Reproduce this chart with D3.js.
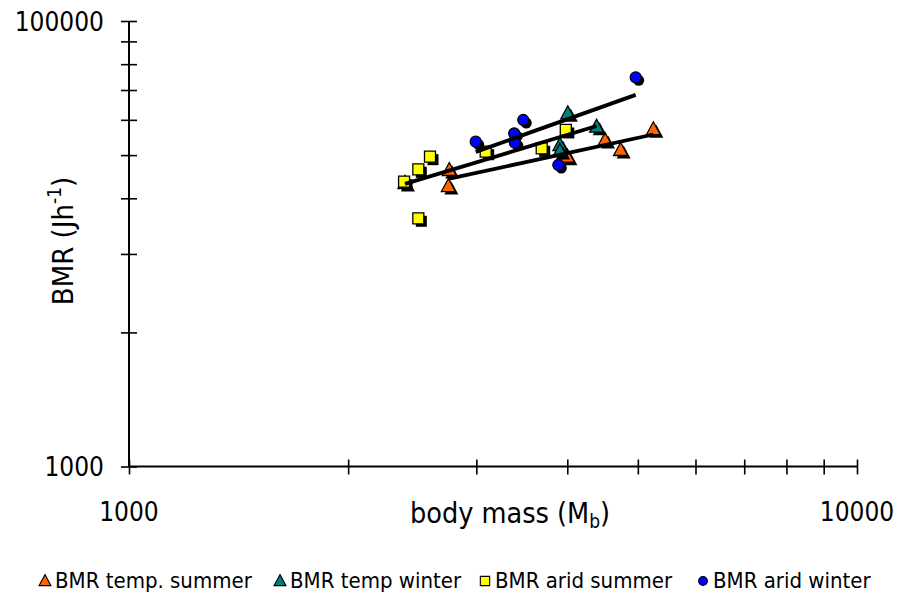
<!DOCTYPE html>
<html><head><meta charset="utf-8">
<script src="https://cdn.jsdelivr.net/npm/d3@7/dist/d3.min.js"></script>
<style>
body{margin:0;background:#fff}
svg{display:block}
text{font-family:"DejaVu Sans Condensed","DejaVu Sans",sans-serif;fill:#000;font-stretch:condensed}
</style>
</head><body>
<svg id="c" width="901" height="593"></svg>
<script>
// ---------- data ----------
const seriesNames = ["BMR temp. summer", "BMR temp winter", "BMR arid summer", "BMR arid winter"];
const seriesColors = ["#ff6600", "#008080", "#ffff00", "#0000ff"];
const seriesShapes = ["triangle", "triangle", "square", "circle"];
const seriesHasTrend = [true, true, false, true];

const tempSummerMass = [2754, 2746, 4001, 4507, 4735, 5251];
const tempSummerBMR  = [21430, 18160, 24600, 29220, 26360, 32660];
const tempWinterMass = [2394, 3908, 3908, 4006, 4389];
const tempWinterBMR  = [18740, 27760, 26090, 38510, 33530];
const aridSummerMass = [2591, 2497, 2387, 2497, 3090, 3689, 3981];
const aridSummerBMR  = [24600, 21590, 19000, 13010, 25890, 26820, 32420];
const aridWinterMass = [2994, 3382, 3389, 3480, 3888, 4966];
const aridWinterBMR  = [28710, 31300, 28410, 35930, 22570, 55880];

const xTickValues = [1000, 2000, 3000, 4000, 5000, 6000, 7000, 8000, 9000, 10000];
const xTickLabels = ["1000", "", "", "", "", "", "", "", "", "10000"];
const yTickValues = [1000, 4000, 9000, 16000, 25000, 36000, 49000, 64000, 81000, 100000];
const yTickLabels = ["1000", "", "", "", "", "", "", "", "", "100000"];

const xTitle = "body mass (M";
const xTitleSub = "b";
const yTitle = "BMR (Jh";
const yTitleSup = "-1";

// ---------- build ----------
const massArrays = [tempSummerMass, tempWinterMass, aridSummerMass, aridWinterMass];
const bmrArrays = [tempSummerBMR, tempWinterBMR, aridSummerBMR, aridWinterBMR];
const series = seriesNames.map((name, i) => ({
  name, color: seriesColors[i], shape: seriesShapes[i], trend: seriesHasTrend[i],
  points: massArrays[i].map((m, j) => ({x: m, y: bmrArrays[i][j]}))
}));

const svg = d3.select("#c");
const x = d3.scaleLog().domain([1000, 10000]).range([129, 857]);
const y = d3.scaleLog().domain([1000, 100000]).range([466.5, 21]);

function shapePath(shape) {
  if (shape === "triangle") return "M0,-7.5L7,5.5L-7,5.5Z";
  if (shape === "square") return "M-5.5,-5.5H5.5V5.5H-5.5Z";
  return d3.symbol(d3.symbolCircle, Math.PI * 5.5 * 5.5)();
}

// axes
const xAxis = d3.axisBottom(x).tickValues(xTickValues).tickSize(0).tickFormat(() => "");
const gx = svg.append("g").attr("transform", `translate(0,${y(1000)})`).call(xAxis);
gx.select(".domain").attr("stroke", "#000").attr("stroke-width", 2).attr("d", `M${x(1000)},0H${x(10000)}`);
gx.selectAll(".tick line").attr("y1", -7).attr("y2", 8).attr("stroke", "#000").attr("stroke-width", 1.6);

const yAxis = d3.axisLeft(y).tickValues(yTickValues).tickSize(0).tickFormat(() => "");
const gy = svg.append("g").attr("transform", `translate(${x(1000)},0)`).call(yAxis);
gy.select(".domain").attr("stroke", "#000").attr("stroke-width", 2).attr("d", `M0,${y(100000)}V${y(1000)}`);
gy.selectAll(".tick line").attr("x1", -8).attr("x2", 8).attr("stroke", "#000").attr("stroke-width", 1.6);

// tick labels
svg.append("g").selectAll("text").data(xTickValues.map((v, i) => ({v, l: xTickLabels[i]})).filter(d => d.l))
  .join("text").attr("x", d => x(d.v)).attr("y", 521).attr("text-anchor", "middle")
  .attr("font-size", 26).text(d => d.l);
svg.append("g").selectAll("text").data(yTickValues.map((v, i) => ({v, l: yTickLabels[i]})).filter(d => d.l))
  .join("text").attr("x", 104).attr("y", d => y(d.v) + 9.5).attr("text-anchor", "end")
  .attr("font-size", 26).text(d => d.l);

// axis titles
const xt = svg.append("text").attr("x", 510).attr("y", 523).attr("text-anchor", "middle").attr("font-size", 28.5);
xt.append("tspan").text(xTitle);
xt.append("tspan").attr("font-size", 19).attr("dy", 5).text(xTitleSub);
xt.append("tspan").attr("dy", -5).text(")");

const yt = svg.append("text").attr("transform", "translate(73,241) rotate(-90)").attr("text-anchor", "middle").attr("font-size", 29);
yt.append("tspan").text(yTitle);
yt.append("tspan").attr("font-size", 19).attr("dy", -12).text(yTitleSup);
yt.append("tspan").attr("dy", 12).text(")");

// markers with drop shadow
series.forEach(s => {
  const g = svg.append("g");
  s.points.forEach(p => {
    g.append("path").attr("d", shapePath(s.shape))
      .attr("transform", `translate(${x(p.x) + 3},${y(p.y) + 3})`).attr("fill", "#000");
    g.append("path").attr("d", shapePath(s.shape))
      .attr("transform", `translate(${x(p.x)},${y(p.y)})`)
      .attr("fill", s.color).attr("stroke", "#000").attr("stroke-width", 1.3);
  });
});

// power trend lines (least squares in log-log space)
series.filter(s => s.trend).forEach(s => {
  const lx = s.points.map(p => Math.log10(p.x)), ly = s.points.map(p => Math.log10(p.y));
  const mx = d3.mean(lx), my = d3.mean(ly);
  const b = d3.sum(lx, (v, i) => (v - mx) * (ly[i] - my)) / d3.sum(lx, v => (v - mx) ** 2);
  const a = my - b * mx;
  const [x0, x1] = d3.extent(s.points, p => p.x);
  const pts = [x0, x1].map(v => [v, Math.pow(10, a + b * Math.log10(v))]);
  svg.append("path").attr("d", d3.line().x(d => x(d[0])).y(d => y(d[1]))(pts))
    .attr("stroke", "#000").attr("stroke-width", 3.8).attr("fill", "none");
});

// legend
const legendX = [45, 280, 485, 703];
const lg = svg.append("g");
series.forEach((s, i) => {
  const sz = s.shape === "circle" ? 0.8 : 0.85;
  lg.append("path").attr("d", shapePath(s.shape))
    .attr("transform", `translate(${legendX[i]},${581}) scale(${sz})`)
    .attr("fill", s.color).attr("stroke", "#000").attr("stroke-width", 1.3);
  lg.append("text").attr("x", legendX[i] + 10).attr("y", 588).attr("font-size", 22).text(s.name);
});
</script>
</body></html>
